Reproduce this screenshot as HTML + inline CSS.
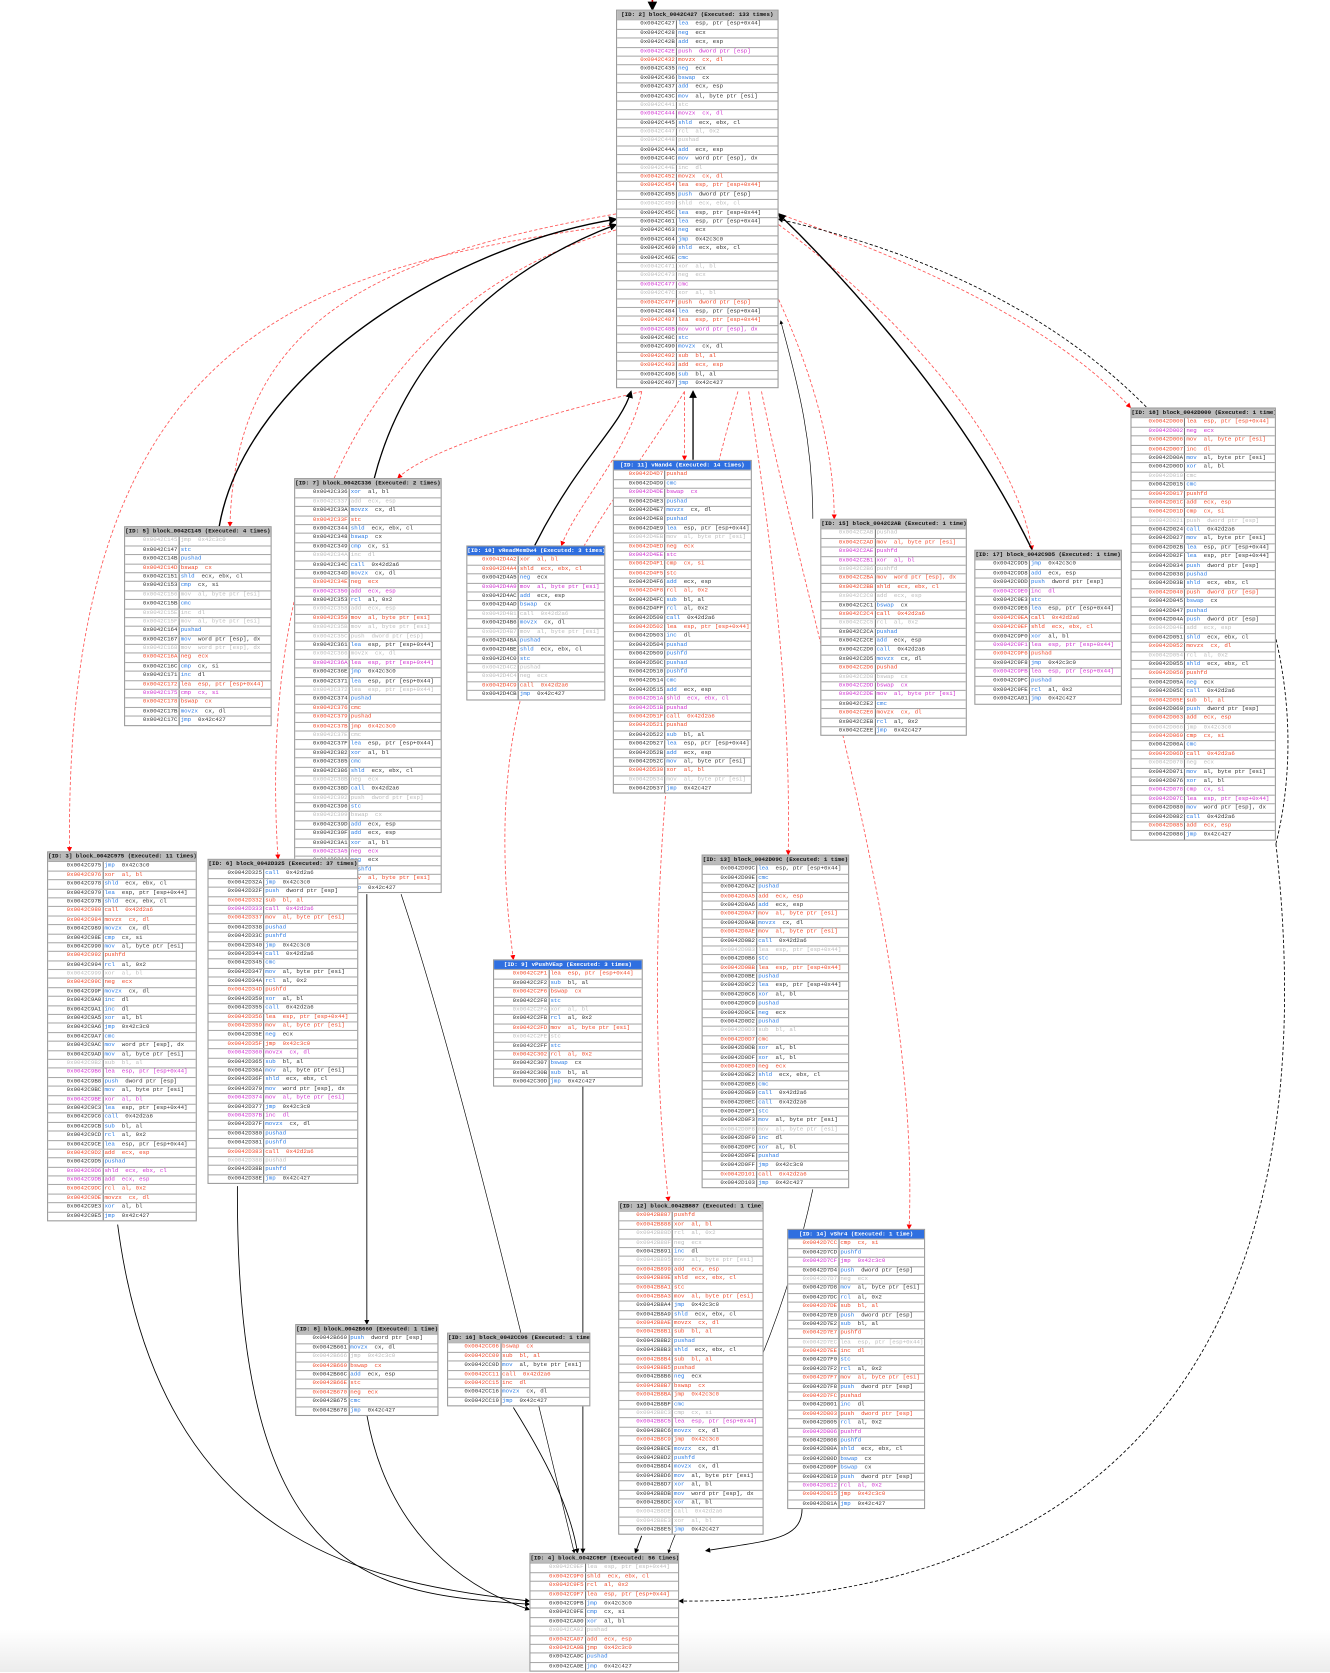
<!DOCTYPE html>
<html><head><meta charset="utf-8">
<style>
html,body{margin:0;padding:0;background:#fff;}
body{width:1330px;height:1672px;position:relative;overflow:hidden;font-family:"Liberation Mono",monospace;background:linear-gradient(to bottom,#fff 0,#fff 1630px,#ececec 1672px);}
#w{position:absolute;left:0;top:0;width:1244px;height:1564px;transform:scale(1.0695);transform-origin:0 0}
.n{position:absolute;border:1px solid #999;background:#fff;font-size:5.4px;line-height:7.4px;box-sizing:border-box}
.h{background:#bbb;color:#111;font-weight:bold;text-align:center;white-space:nowrap;overflow:hidden;height:8.4px;line-height:8.4px}
.h.b{background:#2f6fe0;color:#fff}
.r{display:flex;border-top:1px solid #aaa;height:7.4px;white-space:nowrap;overflow:hidden}
.a{width:36%;border-right:1px solid #777;text-align:right;padding-right:1px;color:#333;overflow:hidden}
.i{padding-left:1px;color:#333;overflow:hidden}
.i b{font-weight:normal;color:#2a7be4}
.red .a,.red .i,.red .i b{color:#f04a2a}
.mag .a,.mag .i,.mag .i b{color:#d030d0}
.gry .a,.gry .i,.gry .i b{color:#bbb}
svg{position:absolute;left:0;top:0}
</style></head><body>
<div id="w">
<svg width="1244" height="1564">
<defs>
<marker id="ak" markerWidth="6" markerHeight="6" refX="5" refY="3" orient="auto"><path d="M0,0L6,3L0,6z" fill="#000"/></marker>
<marker id="ar" markerWidth="6" markerHeight="6" refX="5" refY="3" orient="auto"><path d="M0,0L6,3L0,6z" fill="#f00"/></marker>
</defs>
<g fill="none" stroke-width="0.8">
<path d="M610,0 L610,9" stroke="#c00" stroke-width="1.5" marker-end="url(#ak)"/>
<g stroke="#f55" stroke-dasharray="3,2" marker-end="url(#ar)">
<path d="M576,210 C300,250 60,300 65,796"/>
<path d="M576,215 C350,280 240,500 260,803"/>
<path d="M600,366 C500,390 400,420 372,447"/>
<path d="M640,366 C560,500 440,600 480,897"/>
<path d="M600,366 C590,420 540,470 525,510"/>
<path d="M640,366 L640,430"/>
<path d="M700,366 C720,500 740,650 737,799"/>
<path d="M690,366 C620,600 600,900 625,1123"/>
<path d="M712,366 C760,600 860,900 850,1149"/>
<path d="M728,280 C760,350 780,420 780,485"/>
<path d="M728,210 C850,300 950,420 965,514"/>
<path d="M728,200 C900,260 1000,320 1057,381"/>
<path d="M576,200 C350,240 220,300 215,492"/>
</g>
<g stroke="#000" marker-end="url(#ak)">
<path d="M205,492 C230,350 420,230 576,205" stroke-width="1.3"/>
<path d="M350,447 C380,330 470,250 576,210" stroke-width="1.2"/>
<path d="M500,510 C540,430 580,400 590,366" stroke-width="1.2"/>
<path d="M648,430 L648,366" stroke-width="1.2"/>
<path d="M760,485 C760,400 740,340 730,300" stroke-width="0.6"/>
<path d="M965,514 C900,380 790,260 728,200" stroke-width="1.3"/>
<path d="M1193,789 C1240,600 1150,300 728,205" stroke-dasharray="3,2"/>
<path d="M110,1145 C150,1450 350,1480 495,1497"/>
<path d="M222,1109 C220,1480 350,1490 495,1500"/>
<path d="M343,836 L343,1238"/>
<path d="M375,836 C430,1000 500,1300 537,1452" stroke-width="0.6"/>
<path d="M343,1323 C360,1420 420,1480 495,1505"/>
<path d="M480,1316 C520,1380 535,1420 540,1452"/>
<path d="M545,1015 L545,1452"/>
<path d="M600,1436 L594,1452"/>
<path d="M760,1112 C720,1300 640,1400 625,1452" stroke-width="0.6"/>
<path d="M750,1410 C750,1440 720,1440 660,1450"/>
<path d="M1193,789 C1250,1300 1000,1500 635,1497" stroke-dasharray="3,2"/>
</g>
</g>
</svg>
<div id="c"></div>
</div>
<script>
var nodes=[
["[ID: 2] block_0042C427 (Executed: 133 times)",576,9,152,41,0,0x42c427],
["[ID: 18] block_0042D000 (Executed: 1 time)",1057,381,136,47,0,0x42d000],
["[ID: 5] block_0042C145 (Executed: 4 times)",116,492,138,21,0,0x42c145],
["[ID: 7] block_0042C336 (Executed: 2 times)",275,447,138,45,0,0x42c336],
["[ID: 10] vReadMemDw4 (Executed: 3 times)",436,510,130,16,1,0x42d4a2],
["[ID: 11] vNand4 (Executed: 14 times)",573,430,130,36,1,0x42d4d7],
["[ID: 15] block_0042C2AB (Executed: 1 time)",767,485,137,23,0,0x42c2ab],
["[ID: 17] block_0042C9D5 (Executed: 1 time)",911,514,138,16,0,0x42c9d5],
["[ID: 3] block_0042C975 (Executed: 11 times)",44,796,140,40,0,0x42c975],
["[ID: 6] block_0042D325 (Executed: 37 times)",194,803,141,35,0,0x42d325],
["[ID: 9] vPushVEsp (Executed: 3 times)",461,897,140,13,1,0x42c2f1],
["[ID: 13] block_0042D09C (Executed: 1 time)",656,799,138,36,0,0x42d09c],
["[ID: 12] block_0042B887 (Executed: 1 time)",578,1123,136,36,0,0x42b887],
["[ID: 14] vShr4 (Executed: 1 time)",736,1149,129,30,1,0x42d7cc],
["[ID: 8] block_0042B660 (Executed: 1 time)",276,1238,134,9,0,0x42b660],
["[ID: 16] block_0042CC06 (Executed: 1 time)",418,1246,134,7,0,0x42cc06],
["[ID: 4] block_0042C9EF (Executed: 56 times)",495,1452,140,12,0,0x42c9ef]];
var ops=[["xor","al, bl"],["add","ecx, esp"],["mov","al, byte ptr [esi]"],["stc",""],["neg","ecx"],["jmp","0x42c3c0"],["cmp","cx, si"],["pushfd",""],["push","dword ptr [esp]"],["lea","esp, ptr [esp+0x44]"],["rcl","al, 0x2"],["bswap","cx"],["inc","dl"],["movzx","cx, dl"],["cmc",""],["pushad",""],["sub","bl, al"],["mov","word ptr [esp], dx"],["call","0x42d2a6"],["shld","ecx, ebx, cl"]];
var seed=7;function rnd(){seed=(seed*9301+49297)%233280;return seed/233280;}
var h='';
nodes.forEach(function(n){
 h+='<div class="n" style="left:'+n[1]+'px;top:'+n[2]+'px;width:'+n[3]+'px">';
 h+='<div class="h'+(n[5]?' b':'')+'">'+n[0]+'</div>';
 var a=n[6];
 for(var k=0;k<n[4];k++){
  var o=ops[Math.floor(rnd()*ops.length)],r=rnd(),cl='';
  if(r<0.22)cl='red';else if(r<0.3)cl='mag';else if(r<0.42)cl='gry';
  if(k==n[4]-1){o=["jmp","0x42c427"];cl='';}
  h+='<div class="r '+cl+'"><div class="a">0x00'+a.toString(16).toUpperCase()+'</div><div class="i"><b>'+o[0]+'</b>&nbsp; '+o[1]+'</div></div>';
  a+=1+Math.floor(rnd()*5);
 }
 h+='</div>';
});
document.getElementById('c').innerHTML=h;
</script>
</body></html>
